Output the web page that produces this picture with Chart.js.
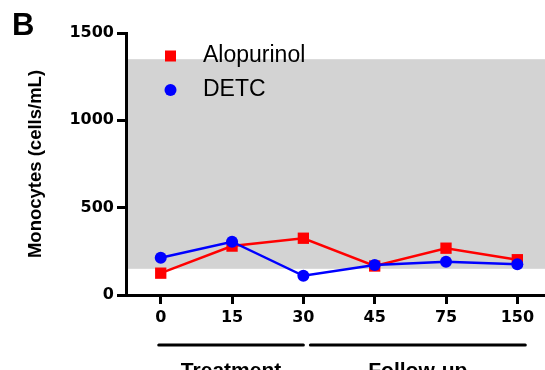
<!DOCTYPE html>
<html>
<head>
<meta charset="utf-8">
<script src="https://cdn.jsdelivr.net/npm/chart.js@4.4.1/dist/chart.umd.min.js"></script>
<style>
  html, body { margin: 0; padding: 0; background: #fff; }
</style>
</head>
<body>
<canvas id="chart" width="545" height="370"></canvas>
<script>
// --- DATA ---
const days = ['0', '15', '30', '45', '75', '150'];
const alopurinol = [125, 280, 325, 166, 268, 202];
const detc = [213, 305, 110, 172, 191, 176];
const yTicks = [0, 500, 1000, 1500];
const normalRange = [150, 1350];
const phases = [
    { label: 'Treatment', from: 0, to: 2 },
    { label: 'Follow-up', from: 2, to: 5 }
];

// --- LOOKS ---
const ARIAL = '"Liberation Sans", Arial, sans-serif';
const tickFont = { family: '"DejaVu Sans", sans-serif', size: 16, weight: 'bold' };
const axisLine = { display: true, color: '#000', width: 3 };
const tickMarks = { display: true, drawOnChartArea: false, drawTicks: true, tickLength: 9, lineWidth: 3, color: '#000' };

Chart.defaults.font.family = ARIAL;
Chart.defaults.color = '#000';

const extras = {
    id: 'extras',
    beforeDraw(chart) {
        // grey reference band
        const { ctx, chartArea, scales: { y } } = chart;
        const top = y.getPixelForValue(normalRange[1]);
        const bottom = y.getPixelForValue(normalRange[0]);
        ctx.save();
        ctx.fillStyle = '#D3D3D3';
        ctx.fillRect(chartArea.left, top, chartArea.right - chartArea.left, bottom - top);
        ctx.restore();
    },
    afterDraw(chart) {
        const { ctx, scales: { x } } = chart;
        ctx.save();
        ctx.fillStyle = '#000';

        // panel letter
        ctx.font = 'bold 31px ' + ARIAL;
        ctx.textBaseline = 'alphabetic';
        ctx.textAlign = 'left';
        ctx.fillText('B', 12, 35);

        // legend inside the plot
        ctx.font = '23px ' + ARIAL;
        ctx.textBaseline = 'middle';
        chart.data.datasets.forEach((ds, i) => {
            const cy = 56 + i * 34;
            ctx.fillStyle = ds.backgroundColor;
            if (ds.pointStyle === 'rect') {
                ctx.fillRect(165, cy - 5.5, 11, 11);
            } else {
                ctx.beginPath();
                ctx.arc(170.5, cy, 6, 0, Math.PI * 2);
                ctx.fill();
            }
            ctx.fillStyle = '#000';
            ctx.fillText(ds.label, 203, cy);
        });

        // phase brackets under the x axis
        const startPad = [-2, 7];
        const endPad = [0, 8];
        ctx.strokeStyle = '#000';
        ctx.lineWidth = 3;
        ctx.lineCap = 'round';
        ctx.font = 'bold 21px ' + ARIAL;
        ctx.textAlign = 'center';
        ctx.textBaseline = 'alphabetic';
        phases.forEach((p, i) => {
            const x1 = x.getPixelForValue(p.from) + startPad[i];
            const x2 = x.getPixelForValue(p.to) + endPad[i];
            ctx.beginPath();
            ctx.moveTo(x1, 345);
            ctx.lineTo(x2, 345);
            ctx.stroke();
            ctx.fillText(p.label, (x1 + x2) / 2, 377);
        });
        ctx.restore();
    }
};

new Chart(document.getElementById('chart'), {
    type: 'line',
    data: {
        datasets: [
            {
                label: 'Alopurinol',
                data: alopurinol.map((v, i) => ({ x: i, y: v })),
                borderColor: '#FF0000',
                backgroundColor: '#FF0000',
                borderWidth: 2.5,
                pointStyle: 'rect',
                pointRadius: 8,
                pointBorderWidth: 0,
                order: 1
            },
            {
                label: 'DETC',
                data: detc.map((v, i) => ({ x: i, y: v })),
                borderColor: '#0000FF',
                backgroundColor: '#0000FF',
                borderWidth: 2.5,
                pointStyle: 'circle',
                pointRadius: 6,
                pointBorderWidth: 0,
                order: 0
            }
        ]
    },
    options: {
        responsive: false,
        animation: false,
        devicePixelRatio: 1,
        layout: { autoPadding: false, padding: { top: 33, right: 0, bottom: 0, left: 0 } },
        plugins: { legend: { display: false }, tooltip: { enabled: false } },
        scales: {
            x: {
                type: 'linear',
                min: -0.487,
                max: 5.388,
                afterBuildTicks: s => { s.ticks = days.map((d, i) => ({ value: i })); },
                afterFit: s => { s.height = 75; s.paddingLeft = 0; s.paddingRight = 0; },
                ticks: { callback: v => days[v], font: tickFont, color: '#000', padding: 4, maxRotation: 0, autoSkip: false },
                grid: tickMarks,
                border: axisLine
            },
            y: {
                min: 0,
                max: 1500,
                afterBuildTicks: s => { s.ticks = yTicks.map(v => ({ value: v })); },
                afterFit: s => { s.width = 126; },
                ticks: { callback: v => String(v), font: tickFont, color: '#000', padding: 3 },
                grid: tickMarks,
                border: axisLine,
                title: {
                    display: true,
                    text: 'Monocytes (cells/mL)',
                    color: '#000',
                    font: { family: ARIAL, size: 18.5, weight: 'bold' },
                    padding: { top: 25, bottom: 0 }
                }
            }
        }
    },
    plugins: [extras]
});
</script>
</body>
</html>
